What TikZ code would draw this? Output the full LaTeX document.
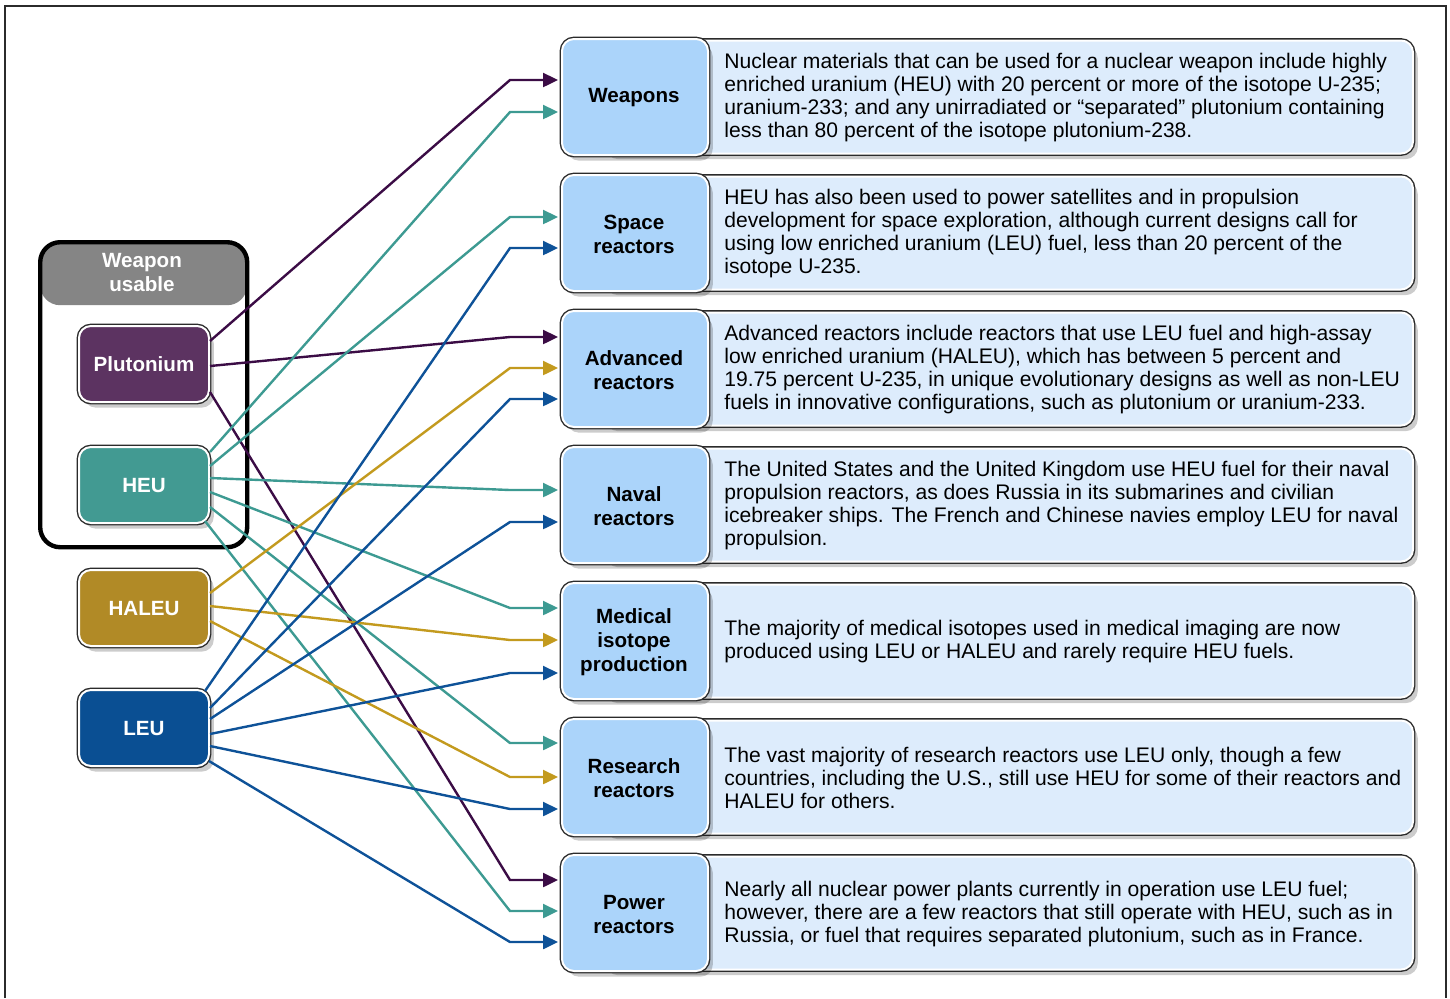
\documentclass[tikz,border=0pt]{standalone}
\usepackage{fontspec}
\setmainfont{Liberation Sans}
\usetikzlibrary{arrows.meta,shadows,calc}
\definecolor{puF}{HTML}{5C3361}
\definecolor{heuF}{HTML}{429A92}
\definecolor{halF}{HTML}{B18A26}
\definecolor{leuF}{HTML}{0A4F93}
\definecolor{puL}{HTML}{3B0C45}
\definecolor{heuL}{HTML}{3D9A92}
\definecolor{halL}{HTML}{C39A1E}
\definecolor{leuL}{HTML}{0E5298}
\definecolor{labF}{HTML}{ABD4FA}
\definecolor{descF}{HTML}{DDECFC}
\definecolor{hdrF}{HTML}{858585}
\definecolor{edgeC}{HTML}{2B2B2B}
\tikzset{
 rbox/.style={rounded corners=6pt,
   drop shadow={shadow xshift=2.4pt,shadow yshift=-2.8pt,opacity=0.2,fill=black},
   preaction={draw=edgeC,line width=2.4pt}, draw=white, line width=1pt, inner sep=0pt},
 srcbox/.style={rbox, minimum width=65pt, minimum height=38pt, anchor=north west,
   text=white, font=\fontsize{10.3}{12}\selectfont\bfseries},
 labbox/.style={rbox, fill=labF, minimum width=73pt, minimum height=58pt, anchor=north west,
   align=center, text width=70pt, font=\fontsize{10.3}{12}\selectfont\bfseries},
 labtext/.style={align=center, inner sep=0pt, font=\fontsize{10.3}{12}\selectfont\bfseries},
 descbox/.style={rbox, fill=descF, minimum width=406pt, minimum height=56.5pt, anchor=north west},
 desctext/.style={anchor=west, align=left, inner sep=0pt, font=\fontsize{10.55}{11.5}\selectfont},
 conn/.style={line width=1.2pt, -{Triangle[length=7.5pt,width=7pt]}},
 groupbox/.style={draw=black, line width=2.2pt, rounded corners=10pt, inner sep=0pt,
   minimum width=103.5pt, minimum height=152.5pt, anchor=north west,
   path picture={\fill[hdrF] (path picture bounding box.north west) rectangle
     ([yshift=-31.5pt]path picture bounding box.north east);}},
 hdrtext/.style={text=white, align=center, font=\fontsize{10.3}{12}\selectfont\bfseries},
}
\newcommand\diagrow[4]{%
 \node[descbox] (#1d) at (600,{#2+1.5}) {};
 \node[labbox] (#1) at (561,#2) {};
 \node[labtext] (#1l) at (634,{#2+60}) {#3};
 \node[desctext] (#1t) at (724,{#2+60}) {#4};
}
\newcommand\conn[5]{%
 \draw[conn,#1] ($(#2.east)+(#3)$) -- ($(#4.west)+(-51,#5)$) -- ($(#4.west)+(-3,#5)$);
}
\begin{document}
\begin{tikzpicture}[x=0.5pt,y=-0.5pt]
\useasboundingbox (0,0) rectangle (1450,998);
\draw[edgeC, line width=1pt] (5,998) -- (5,6) -- (1446,6) -- (1446,998);

\node[groupbox] (grp) at (38,240) {};
\node[hdrtext] (grph) at (142,273) {Weapon\\usable};

\node[srcbox, fill=puF] (pu) at (78,325) {Plutonium};
\node[srcbox, fill=heuF] (heu) at (78,446) {HEU};
\node[srcbox, fill=halF] (hal) at (78,569) {HALEU};
\node[srcbox, fill=leuF] (leu) at (78,689) {LEU};

\diagrow{weap}{38}{Weapons}{Nuclear materials that can be used for a nuclear weapon include highly\\enriched uranium (HEU) with 20 percent or more of the isotope U-235;\\uranium-233; and any unirradiated or “separated” plutonium containing\\less than 80 percent of the isotope plutonium-238.}
\diagrow{space}{174}{Space\\reactors}{HEU has also been used to power satellites and in propulsion\\development for space exploration, although current designs call for\\using low enriched uranium (LEU) fuel, less than 20 percent of the\\isotope U-235.}
\diagrow{adv}{310}{Advanced\\reactors}{Advanced reactors include reactors that use LEU fuel and high-assay\\low enriched uranium (HALEU), which has between 5 percent and\\19.75 percent U-235, in unique evolutionary designs as well as non-LEU\\fuels in innovative configurations, such as plutonium or uranium-233.}
\diagrow{naval}{446}{Naval\\reactors}{The United States and the United Kingdom use HEU fuel for their naval\\propulsion reactors, as does Russia in its submarines and civilian\\icebreaker ships. The French and Chinese navies employ LEU for naval\\propulsion.}
\diagrow{med}{582}{Medical\\isotope\\production}{The majority of medical isotopes used in medical imaging are now\\produced using LEU or HALEU and rarely require HEU fuels.}
\diagrow{res}{718}{Research\\reactors}{The vast majority of research reactors use LEU only, though a few\\countries, including the U.S., still use HEU for some of their reactors and\\HALEU for others.}
\diagrow{pow}{854}{Power\\reactors}{Nearly all nuclear power plants currently in operation use LEU fuel;\\however, there are a few reactors that still operate with HEU, such as in\\Russia, or fuel that requires separated plutonium, such as in France.}

% Plutonium
\conn{puL}{pu}{0,-23}{weap}{-17}
\conn{puL}{pu}{0,2}{adv}{-32}
\conn{puL}{pu}{0,28}{pow}{-33}
% HEU
\conn{heuL}{heu}{0,-33}{weap}{15}
\conn{heuL}{heu}{0,-19}{space}{-16}
\conn{heuL}{heu}{0,-7}{naval}{-15}
\conn{heuL}{heu}{0,7}{med}{-33}
\conn{heuL}{heu}{0,22}{res}{-34}
\conn{heuL}{heu}{-5,36}{pow}{-2}
% HALEU
\conn{halL}{hal}{0,-15}{adv}{-1}
\conn{halL}{hal}{0,-2}{med}{-1}
\conn{halL}{hal}{0,13}{res}{0}
% LEU
\conn{leuL}{leu}{-5,-37}{space}{15}
\conn{leuL}{leu}{0,-20}{adv}{30}
\conn{leuL}{leu}{0,-9}{naval}{17}
\conn{leuL}{leu}{0,6}{med}{32}
\conn{leuL}{leu}{0,18}{res}{32}
\conn{leuL}{leu}{-1,33}{pow}{29}
\end{tikzpicture}
\end{document}
